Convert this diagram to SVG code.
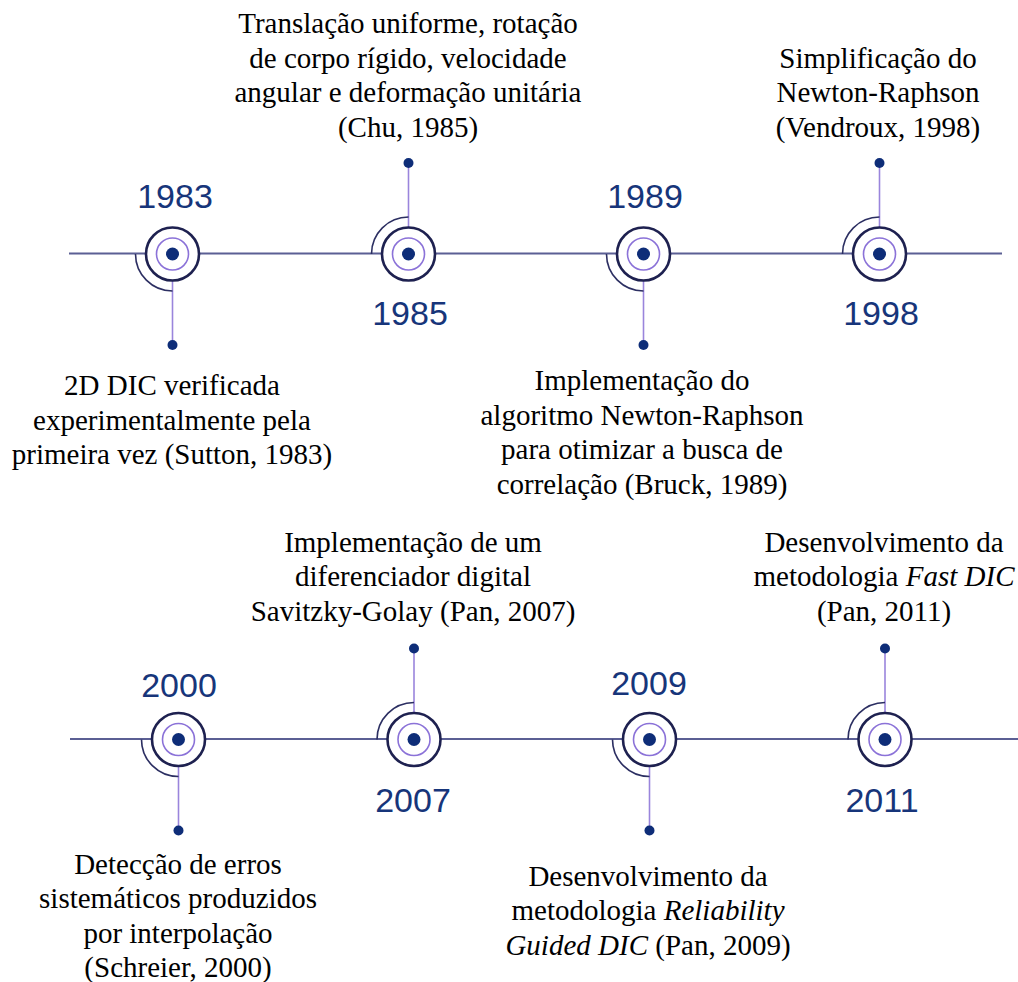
<svg xmlns="http://www.w3.org/2000/svg" width="1018" height="982" viewBox="0 0 1018 982">
<style>
.axis{stroke:#5b5f94;stroke-width:2.2;fill:none}
.outer{fill:#ffffff;stroke:#1e2150;stroke-width:2.6}
.inner{fill:none;stroke:#8b72d8;stroke-width:1.6}
.dot{fill:#0e2d78}
.arc{fill:none;stroke:#2c2f62;stroke-width:1.6}
.stem{stroke:#9a85dc;stroke-width:1.6}
.year{font-family:"Liberation Sans",Arial,sans-serif;font-size:34px;fill:#17357a;text-anchor:middle}
.lbl{font-family:"Liberation Serif","Times New Roman",serif;font-size:29px;fill:#000000;text-anchor:middle}
</style>
<defs>
<g id="core">
<circle class="outer" r="26.5"/>
<circle class="inner" r="16"/>
<circle class="dot" r="6.5"/>
</g>
<g id="downMark">
<line class="stem" x1="0" y1="27" x2="0" y2="91"/>
<path class="arc" d="M -37 0 A 37 37 0 0 0 0 37"/>
<circle class="dot" cx="0" cy="91" r="5"/>
</g>
<g id="upMark">
<line class="stem" x1="0" y1="-27" x2="0" y2="-91"/>
<path class="arc" d="M -37 0 A 37 37 0 0 1 0 -37"/>
<circle class="dot" cx="0" cy="-91" r="5"/>
</g>
</defs>
<g id="connectors">
<line class="axis" x1="69" y1="253.5" x2="1002" y2="253.5"/>
<line class="axis" x1="70" y1="739" x2="1018" y2="739"/>
</g>
<g id="n1983">
<use href="#downMark" x="172.5" y="254"/>
<use href="#core" x="172.5" y="254"/>
<text class="year" x="175" y="208">1983</text>
<text class="lbl" x="172" y="395">2D DIC verificada</text>
<text class="lbl" x="172" y="429.5">experimentalmente pela</text>
<text class="lbl" x="172" y="464">primeira vez (Sutton, 1983)</text>
</g>
<g id="n1985">
<use href="#upMark" x="408.5" y="254"/>
<use href="#core" x="408.5" y="254"/>
<text class="year" x="410" y="325">1985</text>
<text class="lbl" x="408" y="33">Translação uniforme, rotação</text>
<text class="lbl" x="408" y="67.5">de corpo rígido, velocidade</text>
<text class="lbl" x="408" y="102">angular e deformação unitária</text>
<text class="lbl" x="408" y="136.5">(Chu, 1985)</text>
</g>
<g id="n1989">
<use href="#downMark" x="643.5" y="254"/>
<use href="#core" x="643.5" y="254"/>
<text class="year" x="645" y="208">1989</text>
<text class="lbl" x="642" y="390">Implementação do</text>
<text class="lbl" x="642" y="424.5">algoritmo Newton-Raphson</text>
<text class="lbl" x="642" y="459">para otimizar a busca de</text>
<text class="lbl" x="642" y="493.5">correlação (Bruck, 1989)</text>
</g>
<g id="n1998">
<use href="#upMark" x="879.5" y="254"/>
<use href="#core" x="879.5" y="254"/>
<text class="year" x="881" y="325">1998</text>
<text class="lbl" x="878" y="67.5">Simplificação do</text>
<text class="lbl" x="878" y="102">Newton-Raphson</text>
<text class="lbl" x="878" y="136.5">(Vendroux, 1998)</text>
</g>
<g id="n2000">
<use href="#downMark" x="178.5" y="739.5"/>
<use href="#core" x="178.5" y="739.5"/>
<text class="year" x="179" y="697">2000</text>
<text class="lbl" x="178" y="873.5">Detecção de erros</text>
<text class="lbl" x="178" y="908">sistemáticos produzidos</text>
<text class="lbl" x="178" y="942.5">por interpolação</text>
<text class="lbl" x="178" y="977">(Schreier, 2000)</text>
</g>
<g id="n2007">
<use href="#upMark" x="414" y="739.5"/>
<use href="#core" x="414" y="739.5"/>
<text class="year" x="413" y="812">2007</text>
<text class="lbl" x="413" y="551.5">Implementação de um</text>
<text class="lbl" x="413" y="586">diferenciador digital</text>
<text class="lbl" x="413" y="620.5">Savitzky-Golay (Pan, 2007)</text>
</g>
<g id="n2009">
<use href="#downMark" x="649.5" y="739.5"/>
<use href="#core" x="649.5" y="739.5"/>
<text class="year" x="649" y="695">2009</text>
<text class="lbl" x="648" y="885.5">Desenvolvimento da</text>
<text class="lbl" x="648" y="920">metodologia <tspan font-style="italic">Reliability</tspan></text>
<text class="lbl" x="648" y="954.5"><tspan font-style="italic">Guided DIC</tspan> (Pan, 2009)</text>
</g>
<g id="n2011">
<use href="#upMark" x="885" y="739.5"/>
<use href="#core" x="885" y="739.5"/>
<text class="year" x="882" y="812">2011</text>
<text class="lbl" x="884" y="551.5">Desenvolvimento da</text>
<text class="lbl" x="884" y="586">metodologia <tspan font-style="italic">Fast DIC</tspan></text>
<text class="lbl" x="884" y="620.5">(Pan, 2011)</text>
</g>
</svg>
